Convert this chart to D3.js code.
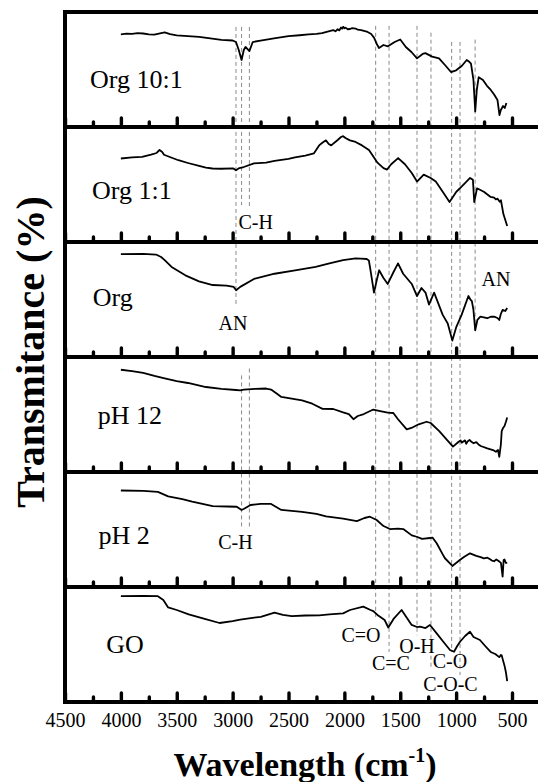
<!DOCTYPE html>
<html>
<head>
<meta charset="utf-8">
<script src="https://cdn.jsdelivr.net/npm/d3@7"></script>
<style>
  body { margin: 0; background: #fff; }
  svg { display: block; font-family: "Liberation Serif", "Times New Roman", serif; }
</style>
</head>
<body>
<svg width="538" height="782"></svg>
<script>
// panel names, top to bottom
const panels = ["Org 10:1", "Org 1:1", "Org", "pH 12", "pH 2", "GO"];

// spectra: [wavenumber, transmittance (a.u., 0-100 inside each panel)]
const org10 = [[4000,80.6],[3950,81.2],[3900,80.9],[3850,81.6],[3800,81.3],[3750,80.6],[3700,80.4],[3650,81.5],[3608,82.3],[3560,80.8],[3500,79.7],[3400,79.1],[3300,78.3],[3200,77],[3100,75.7],[3000,75.2],[2970,73.9],[2945,67],[2920,58.3],[2900,67],[2885,69.6],[2860,67],[2850,66],[2820,73.9],[2750,75.2],[2630,77],[2500,79],[2400,79.8],[2320,80.6],[2250,81],[2200,81.7],[2150,83],[2100,84.3],[2080,83.2],[2060,85],[2045,84],[2030,86.5],[2020,85.5],[2010,87.1],[2000,85.8],[1990,86.4],[1970,85],[1950,85.2],[1930,86],[1900,85.6],[1880,84.6],[1850,84.3],[1800,83],[1760,80.9],[1735,77.7],[1710,72.2],[1690,68.7],[1650,71.3],[1610,70.2],[1550,73.9],[1500,76.1],[1450,69.6],[1400,65.2],[1350,59.7],[1300,63.5],[1275,64.2],[1215,61.2],[1153,59.7],[1100,53.9],[1046,47.8],[1000,49.3],[950,53],[905,58.3],[880,56.5],[867,55.2],[845,40.9],[829,13.5],[815,32.2],[798,43.3],[760,40.9],[724,35.8],[690,32.2],[660,28.3],[630,23.5],[612,10.4],[600,14.8],[590,16.5],[580,18.3],[565,16.5],[550,20.9]];

const org11 = [[4000,72.6],[3900,73.5],[3810,74.1],[3730,75.9],[3680,77.4],[3654,80],[3630,78.3],[3614,75.9],[3550,73.5],[3485,71.1],[3400,68.7],[3300,66.1],[3239,64.6],[3180,63.9],[3100,63.7],[2993,64],[2970,62.4],[2940,64.3],[2900,65.2],[2809,68.4],[2700,69.1],[2625,70.5],[2500,72.2],[2442,73.5],[2350,75.2],[2272,77.1],[2226,84],[2200,86.1],[2165,88.4],[2140,85.2],[2118,84],[2060,88.7],[2030,91.3],[2011,92],[1990,90.4],[1950,88.4],[1900,87],[1842,84],[1780,80],[1735,73.5],[1704,69],[1650,64.3],[1618,63],[1581,67.6],[1519,73],[1458,67.6],[1397,60],[1350,52.6],[1290,58.6],[1228,55.7],[1182,52.6],[1120,43.7],[1059,34.8],[998,43.7],[951,48.2],[875,55.7],[850,54.1],[838,34.8],[813,46.7],[752,43.7],[691,39.2],[660,38.5],[645,37],[629,37.7],[610,35],[599,36.3],[577,24.3],[543,13.9]];

const org = [[4000,89.4],[3800,89.6],[3686,89.1],[3640,87],[3608,84.3],[3546,78.3],[3423,71],[3301,65.8],[3178,62.6],[3055,62],[2990,60.9],[2969,58.1],[2932,61],[2809,67.9],[2625,72.4],[2441,75.4],[2257,78.3],[2134,81.4],[2011,84.3],[1900,85.7],[1854,85.5],[1800,85.2],[1781,84],[1766,75.4],[1735,56],[1710,67],[1689,75.4],[1650,68.7],[1612,63.5],[1560,73.9],[1520,81.4],[1474,72.4],[1397,63.5],[1350,53],[1310,60],[1274,56],[1243,45.6],[1197,56],[1120,36.6],[1075,29.1],[1034,14.3],[998,26.2],[951,36.6],[890,53],[870,49.6],[859,48.5],[845,40.9],[829,23.2],[810,32.2],[783,35.1],[721,33.7],[690,35],[660,35.1],[630,33.9],[614,32.2],[600,37.4],[584,41],[560,40],[543,42.6]];

const ph12 = [[4000,88.9],[3900,87.8],[3800,86.1],[3700,83.5],[3608,81.4],[3500,79.1],[3400,77.4],[3239,73.9],[3100,72.2],[2970,71.3],[2932,71],[2900,71.7],[2800,72.2],[2700,72.6],[2656,71.7],[2600,67.8],[2564,65.3],[2379,62.3],[2287,59.4],[2195,54.9],[2100,54.8],[2011,51.9],[1960,50.4],[1919,45.9],[1880,48.7],[1826,50.4],[1741,54.3],[1680,53],[1612,51.7],[1562,51.3],[1520,45.9],[1442,37],[1400,38.3],[1335,41.5],[1264,43.7],[1228,42.6],[1151,35.5],[1080,27.8],[1028,22.1],[980,26.1],[960,27.5],[950,25.5],[936,26.5],[920,27.5],[910,24.5],[900,26.1],[890,27.2],[880,27.8],[860,26],[844,25],[820,26],[800,24],[780,22.6],[721,20.6],[670,19.1],[644,17.6],[625,19.1],[614,13.1],[600,23.5],[592,35.5],[580,38.3],[567,40],[555,43.5],[543,47.4]];

const ph2 = [[4000,83.9],[3800,83.5],[3669,82.7],[3577,78.8],[3450,76.5],[3362,74.3],[3178,70.4],[3050,70],[2963,69.8],[2920,67],[2902,67.8],[2870,69.6],[2840,71.3],[2750,72.2],[2656,72.2],[2564,67],[2379,65.4],[2250,63.5],[2164,61.5],[2011,59.4],[1950,58.3],[1888,57.3],[1820,60],[1771,61.1],[1711,58.3],[1650,53],[1592,50.4],[1520,50.8],[1473,50.4],[1397,44.9],[1353,43.7],[1305,41.8],[1234,42.6],[1212,43],[1174,38],[1120,28.4],[1100,25],[1040,19.1],[1034,18.3],[967,23.5],[930,26.1],[876,29.3],[820,27],[780,26],[752,24.9],[720,25.5],[700,24.3],[680,23],[660,22.4],[640,24],[620,22.6],[599,21],[584,9],[575,23.5],[567,23.9],[555,20.9],[543,21]];

const go = [[4000,92],[3800,92.2],[3669,92],[3620,88.7],[3577,82.2],[3500,80],[3393,76.2],[3250,72.2],[3117,68.7],[3000,70.4],[2932,71.7],[2748,74.1],[2625,77.7],[2550,75.7],[2471,74.7],[2350,75.2],[2226,75.3],[2134,76.2],[2011,77.1],[1950,80],[1831,82.9],[1766,80],[1741,79.1],[1704,75.7],[1681,74.2],[1640,71.3],[1607,64.8],[1560,72.2],[1488,80],[1440,73],[1398,67],[1350,65.2],[1323,65.5],[1274,64.3],[1234,67],[1174,59.7],[1120,53],[1055,45.2],[1019,43.7],[990,48.7],[965,52.4],[920,57.4],[876,61.1],[844,56.5],[787,53.9],[740,48.7],[691,43.5],[650,41.7],[614,39],[600,40.9],[592,40.5],[584,37.5],[567,31.6],[555,26.1],[543,18.1]];

const spectra = [org10, org11, org, ph12, ph2, go];

// label position per panel: [wavenumber, value]
const panelLabelAt = [[4276,34.3],[4258,37.7],[4252,44.3],[4207,41.7],[4200,37.4],[4130,42.8]];

// assignments: text, wavenumber, panel, value
const bandLabels = [
  ["C-H", 2794, 1, 10.9],
  ["AN", 2997, 2, 23.2],
  ["AN", 643, 2, 61.7],
  ["C-H", 2975, 4, 33],
  ["C=O", 1851, 5, 52.3],
  ["O-H", 1350, 5, 42.8],
  ["C=C", 1583, 5, 27.6],
  ["C-O", 1055, 5, 29.6],
  ["C-O-C", 1051, 5, 9.7]
];

// dashed guides: wavenumber, [panel, value] from, [panel, value] to
const guides = [
  [2970, [0, 87], [2, 45]],
  [2920, [0, 87], [1, 32]],
  [2850, [0, 87], [1, 30]],
  [2920, [3, 84], [4, 50]],
  [2850, [3, 90], [4, 50]],
  [1720, [0, 88], [5, 74]],
  [1600, [0, 88], [5, 43.5]],
  [1350, [0, 88], [5, 58]],
  [1225, [0, 82], [5, 29.6]],
  [1040, [0, 74], [5, 43.5]],
  [965, [0, 74], [5, 23.5]],
  [830, [0, 76], [2, 23.5]]
];

const majorTicks = d3.range(4500, 499, -500);
const minorTicks = d3.range(4250, 499, -500);

const svg = d3.select("svg");
const marginLeft = 65, frameRight = 545, marginTop = 12, panelH = 115;

const x = d3.scaleLinear().domain([4500, 500]).range([marginLeft, 512]);

const ys = panels.map((p, i) => d3.scaleLinear()
    .domain([0, 100])
    .range([marginTop + (i + 1) * panelH, marginTop + i * panelH]));

const line = (y) => d3.line()
    .x(d => x(d[0]))
    .y(d => y(d[1]));

// dashed guides
svg.append("g")
    .selectAll("line")
    .data(guides)
    .join("line")
    .attr("x1", d => x(d[0]))
    .attr("x2", d => x(d[0]))
    .attr("y1", d => ys[d[1][0]](d[1][1]))
    .attr("y2", d => ys[d[2][0]](d[2][1]))
    .attr("stroke", "#8a8a8a")
    .attr("stroke-width", 1)
    .attr("stroke-dasharray", "4,3");

// spectra
spectra.forEach((s, i) => {
    svg.append("path")
        .datum(s)
        .attr("d", line(ys[i]))
        .attr("fill", "none")
        .attr("stroke", "#000")
        .attr("stroke-width", 1.8)
        .attr("stroke-linejoin", "round");
});

// axes under each panel (ticks point up, inside)
panels.forEach((p, i) => {
    const yb = marginTop + (i + 1) * panelH;
    svg.append("g")
        .attr("transform", `translate(0,${yb})`)
        .call(d3.axisTop(x).tickValues(majorTicks).tickSize(9).tickFormat(""))
        .call(g => g.select(".domain").remove())
        .call(g => g.selectAll(".tick line").attr("stroke-width", 3.4).attr("stroke-linecap", "round"));
    svg.append("g")
        .attr("transform", `translate(0,${yb})`)
        .call(d3.axisTop(x).tickValues(minorTicks).tickSize(5).tickFormat(""))
        .call(g => g.select(".domain").remove())
        .call(g => g.selectAll(".tick line").attr("stroke-width", 3.4).attr("stroke-linecap", "round"));
    svg.append("line")
        .attr("x1", marginLeft).attr("x2", frameRight)
        .attr("y1", yb).attr("y2", yb)
        .attr("stroke", "#000").attr("stroke-width", 4);

    svg.append("text")
        .attr("x", x(panelLabelAt[i][0]))
        .attr("y", ys[i](panelLabelAt[i][1]))
        .attr("font-size", 26)
        .text(p);
});

// frame: top border and left axis
svg.append("line")
    .attr("x1", marginLeft).attr("x2", frameRight)
    .attr("y1", marginTop).attr("y2", marginTop)
    .attr("stroke", "#000").attr("stroke-width", 4);
svg.append("line")
    .attr("x1", marginLeft).attr("x2", marginLeft)
    .attr("y1", marginTop - 2).attr("y2", marginTop + 6 * panelH + 2)
    .attr("stroke", "#000").attr("stroke-width", 4);

// band assignments
svg.append("g")
    .selectAll("text")
    .data(bandLabels)
    .join("text")
    .attr("x", d => x(d[1]))
    .attr("y", d => ys[d[2]](d[3]))
    .attr("text-anchor", "middle")
    .attr("font-size", 20)
    .text(d => d[0]);

// x tick labels
svg.append("g")
    .attr("transform", `translate(0,${marginTop + 6 * panelH})`)
    .call(d3.axisBottom(x).tickValues(majorTicks).tickSize(0).tickPadding(11).tickFormat(d3.format("d")))
    .call(g => g.select(".domain").remove())
    .call(g => g.selectAll("text")
        .attr("font-family", "Liberation Serif, serif")
        .attr("font-size", 20)
        .attr("fill", "#000"));

// axis titles
const xt = svg.append("text")
    .attr("x", 305)
    .attr("y", 776)
    .attr("text-anchor", "middle")
    .attr("font-family", "Liberation Serif, serif")
    .attr("font-size", 34)
    .attr("font-weight", "bold");
xt.append("tspan").text("Wavelength (cm");
xt.append("tspan").attr("font-size", 20).attr("dy", -14).text("-1");
xt.append("tspan").attr("dy", 14).text(")");

svg.append("text")
    .attr("transform", "translate(44,352) rotate(-90)")
    .attr("text-anchor", "middle")
    .attr("font-family", "Liberation Serif, serif")
    .attr("font-size", 40)
    .attr("font-weight", "bold")
    .text("Transmitance (%)");
</script>
</body>
</html>
